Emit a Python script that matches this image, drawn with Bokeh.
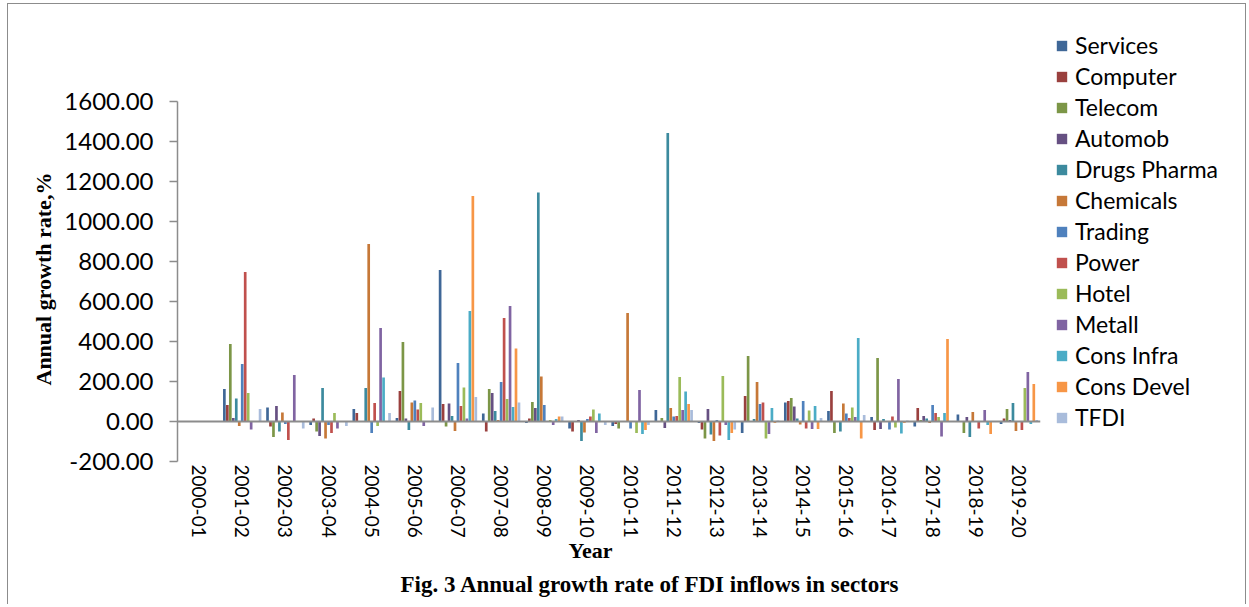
from bokeh.plotting import figure
from bokeh.models import (ColumnDataSource, FactorRange, Range1d, Span, FixedTicker,
                          PrintfTickFormatter, Legend, Title, InlineStyleSheet)
from bokeh.transform import dodge
from bokeh.embed import file_html
from bokeh.resources import INLINE

years = ["2000-01", "2001-02", "2002-03", "2003-04", "2004-05", "2005-06", "2006-07",
         "2007-08", "2008-09", "2009-10", "2010-11", "2011-12", "2012-13", "2013-14",
         "2014-15", "2015-16", "2016-17", "2017-18", "2018-19", "2019-20"]

services = [0, 162, 70, -18, 62, 18, 757, 40, -8, -35, -22, 57, -8, -57, 95, 53, 22, -25, 35, -13]
computer = [0, 83, -25, 15, 43, 153, 87, -50, 15, -50, -13, 3, -40, 128, 102, 153, -42, 67, 0, 15]
telecom = [0, 387, -77, -50, 3, 397, -25, 162, 98, 0, -35, 17, -85, 327, 118, -57, 317, 8, -57, 63]
automob = [0, 18, 77, -73, 0, 15, 90, 143, 67, 8, 3, -32, 62, 0, 75, 0, -38, 28, 22, 8]
drugs_pharma = [0, 115, -50, 168, 167, -42, 28, 52, 1145, -97, 0, 1443, -65, 12, 15, -50, 12, 15, -77, 92]
chemicals = [0, -22, 45, -85, 887, 95, -47, 8, 225, -55, 542, 68, -97, 198, -15, 90, 0, -8, 47, -47]
trading = [0, 287, -13, -18, -57, 105, 293, 198, 83, 12, -35, 25, 8, 87, 102, 40, -40, 83, 0, 0]
power = [0, 748, -92, -57, 92, 60, 77, 517, 0, 25, 0, 28, -70, 95, -35, 18, 25, 43, -35, -42]
hotel = [0, 143, 0, 42, -23, 92, 170, 112, 8, 60, -58, 222, 227, -85, 55, 70, -30, 22, 0, 168]
metall = [0, -40, 233, -35, 467, -22, 15, 578, -18, -57, 158, 58, -18, -63, -38, 23, 213, -75, 57, 248]
cons_infra = [0, 0, 0, 0, 220, 0, 552, 73, 12, 40, -63, 150, -92, 67, 77, 417, -60, 43, -18, -13]
cons_devel = [0, 0, 0, 0, 0, 0, 1128, 365, 25, 0, -43, 87, -58, -8, -38, -85, -8, 412, -63, 188]
tfdi = [0, 62, -35, -22, 43, 70, 123, 95, 25, -18, -18, 58, -40, 5, 18, 32, 5, 0, 0, 8]

series_names = ["Services", "Computer", "Telecom", "Automob", "Drugs Pharma", "Chemicals",
                "Trading", "Power", "Hotel", "Metall", "Cons Infra", "Cons Devel", "TFDI"]
series_values = [services, computer, telecom, automob, drugs_pharma, chemicals, trading,
                 power, hotel, metall, cons_infra, cons_devel, tfdi]
colors = ["#3F6797", "#9A403E", "#7C9647", "#665082", "#3C8A9E", "#C67838",
          "#4F81BD", "#C0504D", "#9BBB59", "#8064A2", "#4BACC6", "#F79646", "#A9BCDB"]

y_ticks = [-200, 0, 200, 400, 600, 800, 1000, 1200, 1400, 1600]

# frame extends above the 1600 tick so the legend (right panel) has room; axis is bounded
p = figure(frame_width=863, frame_height=445, x_range=FactorRange(*years),
           y_range=Range1d(-200, 2025),
           output_backend="svg", toolbar_location=None,
           min_border_left=177, min_border_right=205, min_border_top=16, min_border_bottom=0)
p.outline_line_color = None
p.xgrid.visible = False
p.ygrid.visible = False
p.stylesheets = [InlineStyleSheet(css=(
    ":host::before { content: ''; position: absolute; left: 7px; top: 3px; width: 1237px; "
    "height: 600px; border-left: 1px solid #8c8c8c; border-top: 1px solid #8c8c8c; "
    "border-right: 1px solid #8c8c8c; pointer-events: none; z-index: 10; }"))]

n = len(series_names)
bw = 1.0 / (n + 1.5)
renderers = []
for i, (name, vals, col) in enumerate(zip(series_names, series_values, colors)):
    src = ColumnDataSource(dict(year=years, v=vals))
    r = p.vbar(x=dodge("year", (i - (n - 1) / 2) * bw, range=p.x_range), top="v",
               width=bw * 0.9, source=src, fill_color=col, line_color=None)
    renderers.append((name, [r]))

p.add_layout(Span(location=0, dimension="width", line_color="#8c8c8c", line_width=2))

# y axis
ya = p.yaxis[0]
ya.bounds = (-200, 1600)
ya.ticker = FixedTicker(ticks=y_ticks)
ya.formatter = PrintfTickFormatter(format="%.2f")
ya.major_label_text_font = "Lato"
ya.major_label_text_font_size = "24px"
ya.major_label_text_color = "black"
ya.major_label_standoff = 16
ya.major_tick_out = 8
ya.major_tick_in = 0
ya.minor_tick_line_color = None
ya.axis_line_color = "#8c8c8c"
ya.axis_line_width = 1.5
ya.major_tick_line_color = "#8c8c8c"
ya.major_tick_line_width = 1.5

p.add_layout(Title(text="Annual growth rate,%", align="left", offset=76, standoff=11,
                   text_font="Liberation Serif", text_font_size="22px",
                   text_font_style="bold", text_color="black"), "left")

# x axis
xa = p.xaxis[0]
xa.axis_line_color = None
xa.major_tick_line_color = None
xa.minor_tick_line_color = None
xa.major_label_orientation = "vertical"
xa.major_label_text_font = "Lato"
xa.major_label_text_font_size = "19px"
xa.major_label_text_color = "black"
xa.major_label_standoff = -3

p.add_layout(Title(text="Year", align="left", offset=391, standoff=-9,
                   text_font="Liberation Serif", text_font_size="22px",
                   text_font_style="bold", text_color="black"), "below")
p.add_layout(Title(text="Fig. 3 Annual growth rate of FDI inflows in sectors", align="left",
                   offset=223, standoff=22, text_font="Liberation Serif", text_font_size="23px",
                   text_font_style="bold", text_color="black"), "below")

legend = Legend(items=renderers, location="top_left", orientation="vertical")
legend.border_line_color = None
legend.background_fill_alpha = 0
legend.padding = 0
legend.margin = 15
legend.spacing = 3
legend.glyph_width = 13
legend.glyph_height = 13
legend.label_height = 28
legend.label_standoff = 7
legend.label_text_font = "Lato"
legend.label_text_font_size = "23px"
legend.label_text_color = "black"
p.add_layout(legend, "right")

open("out.html", "w").write(file_html(p, INLINE))
